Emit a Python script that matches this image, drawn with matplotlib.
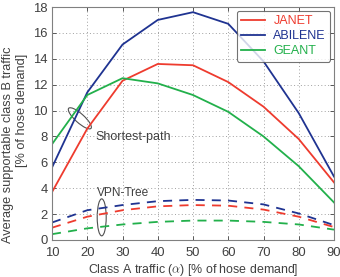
import numpy as np
import matplotlib
matplotlib.use("Agg")
import matplotlib.pyplot as plt
from matplotlib.patches import Ellipse
from matplotlib import transforms

plt.rcParams['font.family'] = ['Liberation Sans', 'DejaVu Sans']
plt.rcParams['mathtext.fontset'] = 'cm'

alpha = [10, 20, 30, 40, 50, 60, 70, 80, 90]
sp_janet = [3.7, 8.6, 12.3, 13.6, 13.5, 12.2, 10.3, 7.8, 4.45]
sp_abilene = [5.6, 11.4, 15.1, 17.0, 17.6, 16.7, 13.8, 9.8, 4.9]
sp_geant = [7.4, 11.2, 12.5, 12.1, 11.2, 9.9, 8.0, 5.7, 2.9]
vpn_janet = [0.95, 1.8, 2.3, 2.6, 2.7, 2.65, 2.35, 1.8, 1.0]
vpn_abilene = [1.35, 2.3, 2.7, 3.0, 3.1, 3.05, 2.75, 2.05, 1.15]
vpn_geant = [0.45, 0.9, 1.2, 1.4, 1.5, 1.5, 1.4, 1.2, 0.8]
names = ['JANET', 'ABILENE', 'GEANT']
colors = ['#ee3b2e', '#1f3391', '#22b04b']

fig = plt.figure(figsize=(3.4, 2.77), dpi=100)
ax = fig.add_axes([52/340, 1-240/277, 282/340, 233/277])

tc = '#404040'
for ys, c, n in zip([sp_janet, sp_abilene, sp_geant], colors, names):
    ax.plot(alpha, ys, color=c, lw=1.3, label=n)
for ys, c in zip([vpn_janet, vpn_abilene, vpn_geant], colors):
    ax.plot(alpha, ys, color=c, lw=1.3, ls=(0, (5, 4)))

ax.set_xlim(10, 90)
ax.set_ylim(0, 18)
ax.set_xticks(range(10, 91, 10))
ax.set_yticks(range(0, 19, 2))
ax.grid(True, ls=(0, (1, 2.5)), color='#a0a0a0', lw=0.7)
ax.tick_params(direction='in', length=3, labelsize=9.4, colors=tc, width=0.6,
               top=True, right=True)
ax.tick_params(axis='x', pad=5)
ax.tick_params(axis='y', pad=3)
for s in ax.spines.values():
    s.set_color('#808080')
    s.set_linewidth(0.8)

ax.set_xlabel('Class A traffic ($\\alpha$) [% of hose demand]', fontsize=8.9,
              color=tc, labelpad=2.5)
fig.text(8/340, 1-145/277, 'Average supportable class B traffic', rotation=90,
         ha='center', va='center', fontsize=9.2, color=tc)
fig.text(22/340, 1-110/277, '[% of hose demand]', rotation=90,
         ha='center', va='center', fontsize=9.2, color=tc)

leg = ax.legend(loc='upper right', fontsize=9, frameon=True, handlelength=1.9,
                borderpad=0.35, labelspacing=0.25, handletextpad=0.7,
                borderaxespad=0.3, fancybox=True)
leg.get_frame().set_edgecolor('#505050')
leg.get_frame().set_linewidth(0.8)
for t, c in zip(leg.get_texts(), colors):
    t.set_color(c)

def ell(x, y, w, h, ang):
    tr = fig.dpi_scale_trans + transforms.ScaledTranslation(x, y, ax.transData)
    e = Ellipse((0, 0), w, h, angle=ang, transform=tr, fill=False,
                edgecolor='#505050', lw=0.8)
    ax.add_patch(e)

ell(17.9, 9.4, 0.30, 0.09, -42)
ell(24.1, 1.75, 0.09, 0.37, 0)
ax.text(22.3, 7.95, 'Shortest-path', fontsize=9, color=tc, va='center', ha='left')
ax.text(30.2, 3.65, 'VPN-Tree', fontsize=8.6, color=tc, va='center', ha='center')

fig.savefig('out.png', dpi=100)
